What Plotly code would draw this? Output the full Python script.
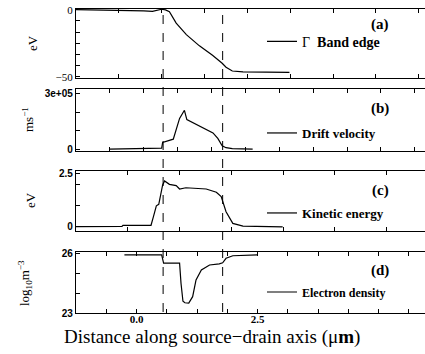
import plotly.graph_objects as go

# ---------------- data ----------------
x_band = [-1.25, -0.1, 0.15, 0.33, 0.45, 0.52, 0.6, 0.68, 0.82, 1.03, 1.30, 1.57, 1.77, 1.85, 1.98, 2.2, 3.16]
band_edge = [0, -0.3, -0.9, -1.3, -0.6, 0.3, -0.2, -1.5, -10, -18.6, -27, -34, -40, -43, -45.8, -46.5, -46.8]

x_vel = [-0.56, -0.25, -0.24, 0.52, 0.54, 0.76, 0.89, 0.94, 0.99, 1.04, 1.30, 1.58, 1.68, 1.77, 1.85, 1.98, 2.4]
drift_velocity = [0, 1e3, 4e3, 5e3, 3.6e4, 5.4e4, 1.66e5, 1.88e5, 2.1e5, 1.6e5, 1.26e5, 8.8e4, 5.8e4, 1.8e4, 8e3, 3e3, 0]

x_ke = [-1.25, -0.3, -0.28, 0.30, 0.35, 0.41, 0.46, 0.54, 0.58, 0.68, 0.82, 0.89, 1.02, 1.30, 1.44, 1.65, 1.75, 1.85, 1.99, 2.2, 3.02]
kinetic_energy = [0.02, 0.03, 0.08, 0.08, 0.49, 1.0, 1.07, 1.98, 2.17, 2.01, 1.95, 1.79, 1.85, 1.82, 1.79, 1.64, 1.43, 0.72, 0.17, 0.04, 0.0]

x_dens = [-0.25, 0.52, 0.56, 0.89, 0.92, 0.96, 1.0, 1.08, 1.16, 1.23, 1.34, 1.51, 1.71, 1.78, 1.85, 1.99, 2.5]
electron_density = [25.95, 25.95, 25.53, 25.53, 24.5, 23.6, 23.52, 23.5, 23.83, 24.68, 25.19, 25.44, 25.5, 25.55, 25.78, 25.91, 25.95]

gate_edges = [0.55, 1.78]
panel_labels = ["(a)", "(b)", "(c)", "(d)"]
series_names = ["Γ  <b>Band edge</b>", "<b>Drift velocity</b>", "<b>Kinetic energy</b>", "<b>Electron density</b>"]
x_ticks = [0, 2.5]
x_ticklabels = ["<b>0.0</b>", "<b>2.5</b>"]
x_title = "Distance along source−drain axis (μ<b>m</b>)"

# ---------------- layout geometry ----------------
W, H = 425, 354
L = 76
PW = W - L
SERIF = "Liberation Serif, Times New Roman, serif"
SANS = "Liberation Sans, Arial, sans-serif"

def ydom(top_px, bot_px):
    return [1 - bot_px / H, 1 - top_px / H]

def px_x(px):
    return (px - L) / PW

def px_y(py):
    return 1 - py / H

domains = [ydom(9, 78), ydom(89, 151), ydom(171, 231), ydom(252, 313)]
x_range = [-1.25, -1.25 + PW / 48.4]
x_dticks = [0.885, 0.70, 1.07, 0.625]

fig = go.Figure()
xs = [x_band, x_vel, x_ke, x_dens]
ys = [band_edge, drift_velocity, kinetic_energy, electron_density]
for i in range(4):
    sfx = "" if i == 0 else str(i + 1)
    fig.add_trace(go.Scatter(
        x=xs[i], y=ys[i], mode="lines",
        line=dict(color="black", width=1.2),
        name=series_names[i],
        xaxis="x" + sfx, yaxis="y" + sfx,
        legend="legend" + sfx,
        showlegend=True,
    ))

axis_line = dict(showline=True, linecolor="black", linewidth=1.3, zeroline=False,
                 showgrid=False, automargin=False)

layout = dict(
    width=W, height=H,
    margin=dict(l=L, r=0, t=0, b=0, autoexpand=False),
    paper_bgcolor="white", plot_bgcolor="white",
    font=dict(family=SERIF, color="black"),
    showlegend=True,
)

y_specs = [
    dict(range=[-51, 0.5], tickvals=[0, -50], ticktext=["0", "−50"],
         tickfont=dict(family=SERIF, size=11), minor=dict(dtick=50 / 6, tick0=0)),
    dict(range=[-0.1e5, 3.25e5], tickvals=[0, 3e5], ticktext=["<b>0</b>", "<b>3e+05</b>"],
         tickfont=dict(family=SANS, size=10), minor=dict(dtick=1e5, tick0=0)),
    dict(range=[-0.19, 2.64], tickvals=[0, 2.5], ticktext=["<b>0</b>", "<b>2.5</b>"],
         tickfont=dict(family=SANS, size=10), minor=dict(dtick=1.0, tick0=0)),
    dict(range=[23.0, 26.1], tickvals=[23, 26], ticktext=["<b>23</b>", "<b>26</b>"],
         tickfont=dict(family=SANS, size=10), minor=dict(dtick=1.0, tick0=23)),
]

for i in range(4):
    sfx = "" if i == 0 else str(i + 1)
    xa = dict(axis_line, domain=[0, 1], range=x_range, anchor="y" + sfx,
              mirror="ticks", ticks="inside", ticklen=4, tickcolor="black")
    if i < 3:
        xa.update(tickmode="linear", tick0=-1.25, dtick=x_dticks[i], showticklabels=False)
    else:
        xa.update(tickmode="array", tickvals=x_ticks, ticktext=x_ticklabels,
                  tickfont=dict(family=SERIF, size=11), ticklabelstandoff=-4,
                  minor=dict(ticks="inside", dtick=x_dticks[i], tick0=-1.25, ticklen=4, tickcolor="black"))
    ys_ = y_specs[i]
    minor = dict(ys_["minor"], ticks="inside", ticklen=4, tickcolor="black")
    ya = dict(axis_line, domain=domains[i], range=ys_["range"], anchor="x" + sfx,
              tickmode="array", tickvals=ys_["tickvals"], ticktext=ys_["ticktext"],
              tickfont=ys_["tickfont"], ticks="inside", ticklen=4, tickcolor="black",
              minor=minor, mirror=False)
    layout["xaxis" + sfx] = xa
    layout["yaxis" + sfx] = ya

# legends (one per panel)
legend_centers_px = [41.7, 133, 213, 292]
legend_fonts = [14, 13, 13, 12]
for i in range(4):
    key = "legend" if i == 0 else "legend" + str(i + 1)
    layout[key] = dict(
        x=px_x(262), xanchor="left",
        y=px_y(legend_centers_px[i]), yanchor="middle",
        bgcolor="rgba(0,0,0,0)", borderwidth=0,
        font=dict(family=SERIF, size=legend_fonts[i], color="black"),
        itemwidth=30,
    )

annotations = []
label_centers_px = [25, 108, 190, 270]
for i in range(4):
    annotations.append(dict(
        text="<b>" + panel_labels[i] + "</b>", xref="paper", yref="paper",
        x=px_x(380), y=px_y(label_centers_px[i]),
        xanchor="center", yanchor="middle", showarrow=False,
        font=dict(family=SERIF, size=15, color="black"),
    ))

ytitles = ["eV", "ms<sup>−1</sup>", "eV", "log<sub>10</sub>m<sup>−3</sup>"]
ytitle_pos = [(32, 43), (28, 120), (30, 200), (25, 283)]
for t, (px, py) in zip(ytitles, ytitle_pos):
    annotations.append(dict(
        text=t, xref="paper", yref="paper",
        x=px_x(px), y=px_y(py),
        xanchor="center", yanchor="middle", showarrow=False, textangle=-90,
        font=dict(family=SERIF, size=13, color="black"),
    ))

# x-axis title (centred on the figure like the reference)
annotations.append(dict(
    text=x_title, xref="paper", yref="paper",
    x=px_x(212), y=px_y(337), xanchor="center", yanchor="middle",
    showarrow=False, font=dict(family=SERIF, size=19, color="black"),
))
layout["annotations"] = annotations

shapes = []
for g in gate_edges:
    shapes.append(dict(type="line", xref="x4", yref="paper",
                       x0=g, x1=g, y0=px_y(312), y1=px_y(10),
                       line=dict(color="black", width=1, dash="dash")))
layout["shapes"] = shapes

fig.update_layout(**layout)
fig.write_html(
    "out.html",
    config={"displayModeBar": False},
    post_script="document.body.style.margin='0';document.body.style.overflow='hidden';",
)
